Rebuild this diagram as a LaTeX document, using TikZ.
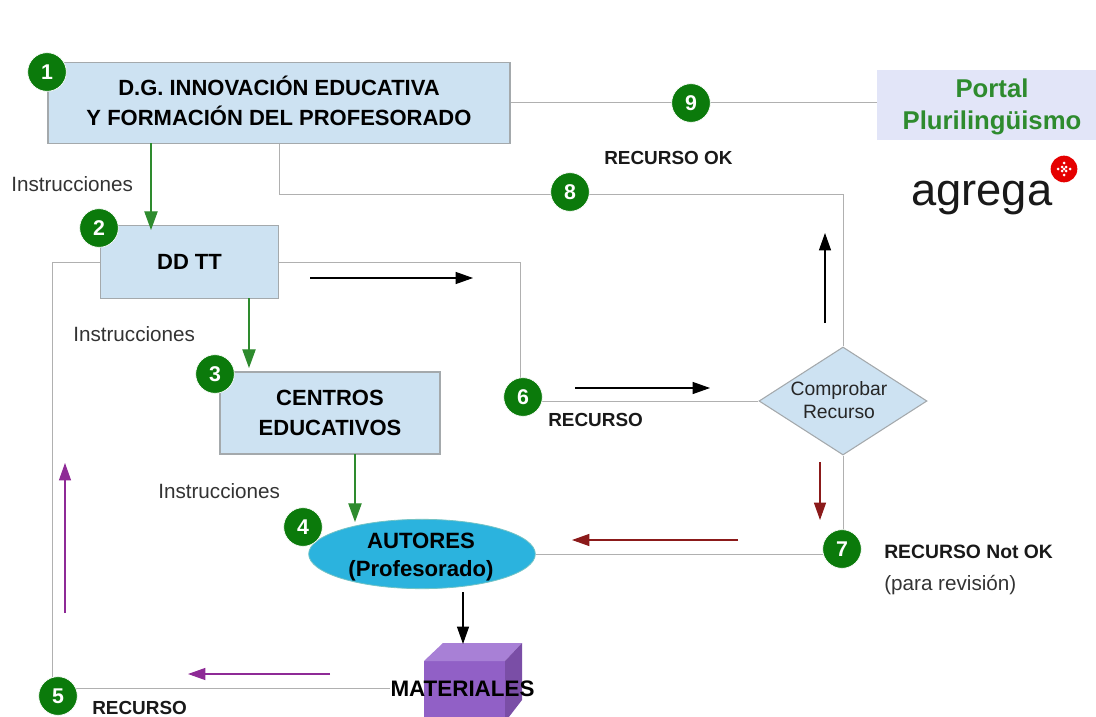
\documentclass[tikz,border=0pt]{standalone}
\usepackage{fontspec}
\setmainfont{Liberation Sans}
\usetikzlibrary{arrows.meta,shapes.geometric,calc}
\definecolor{boxfill}{HTML}{CDE2F2}
\definecolor{boxline}{HTML}{A4A9AC}
\definecolor{wire}{HTML}{B0B0B0}
\definecolor{gr}{HTML}{2E8B2E}
\definecolor{badge}{HTML}{0B7A0B}
\definecolor{dred}{HTML}{8B1A1A}
\definecolor{purp}{HTML}{8E2A96}
\definecolor{portalfill}{HTML}{E2E5F8}
\definecolor{ellfill}{HTML}{2BB3DE}
\definecolor{cubefront}{HTML}{9160C6}
\definecolor{cubetop}{HTML}{A880D6}
\definecolor{cubeside}{HTML}{7A4EA6}
\tikzset{
 x=0.75pt,y=-0.75pt,
 bx/.style={draw=boxline,line width=0.8pt,fill=boxfill,inner sep=0pt},
 bxt/.style={align=center,inner sep=0pt,font=\fontsize{16.5}{22}\selectfont\bfseries},
 badgec/.style={circle,fill=badge,draw=white,line width=0.5pt,minimum size=29pt,inner sep=0pt,text=white,font=\fontsize{16}{16}\selectfont\bfseries},
 wireline/.style={draw=wire,line width=0.75pt},
 greenarrow/.style={draw=gr,line width=0.9pt,-{Triangle[length=14pt,width=10pt,fill=gr]}},
 blackarrow/.style={draw=black,line width=0.8pt,-{Triangle[length=13pt,width=9pt]}},
 redarrow/.style={draw=dred,line width=0.9pt,-{Triangle[length=13pt,width=9pt,fill=dred]}},
 purparrow/.style={draw=purp,line width=0.8pt,-{Triangle[length=13pt,width=9pt,fill=purp]}},
 lab/.style={inner sep=0pt,font=\fontsize{15.5}{18}\selectfont,text=black!80},
 blab/.style={inner sep=0pt,font=\fontsize{14.2}{17}\selectfont\bfseries,text=black!90},
}
\begin{document}
\begin{tikzpicture}
\useasboundingbox (0,0) rectangle (1096,717);
% shapes
\node[bx,minimum width=346.5pt,minimum height=60.5pt] (b1) at (279,103) {};
\node[bxt] (b1t) at (279,101) {D.G. INNOVACIÓN EDUCATIVA\\Y FORMACIÓN DEL PROFESORADO};
\node[bx,minimum width=134pt,minimum height=55pt] (b2) at (189.5,262) {};
\node[bxt] (b2t) at (189.5,262) {DD TT};
\node[bx,minimum width=165pt,minimum height=61.5pt] (b3) at (330,413) {};
\node[bxt] (b3t) at (330,413) {CENTROS\\EDUCATIVOS};
\node[fill=portalfill,minimum width=164.5pt,minimum height=52.5pt,inner sep=0pt] (portal) at (986.5,105) {};
\node[align=center,inner sep=0pt,text=gr,font=\fontsize{19.3}{24}\selectfont\bfseries] (portaltxt) at (992,107) {Portal\\Plurilingüismo};
\node[diamond,aspect=1.55,draw=boxline,line width=0.8pt,fill=boxfill,minimum width=126pt,minimum height=81pt,inner sep=0pt] (check) at (843,401) {};
\node[align=center,inner sep=0pt,text=black!85,font=\fontsize{14.5}{17}\selectfont] (checktxt) at (839,400) {Comprobar\\Recurso};
\node[ellipse,draw=boxline!70!cyan,line width=0.6pt,fill=ellfill,minimum width=170pt,minimum height=52pt,inner sep=0pt] (autores) at (422,554) {};
\node[align=center,inner sep=0pt,font=\fontsize{16.6}{21}\selectfont\bfseries] (autorestxt) at (421,557) {AUTORES\\(Profesorado)};
% cube
\begin{scope}
\clip (0,0) rectangle (1096,717);
\fill[cubefront] (424,661) rectangle (505,730);
\fill[cubetop] (424,661) -- (443,643) -- (522,643) -- (505,661) -- cycle;
\fill[cubeside] (505,661) -- (522,643) -- (522,700) -- (505,722) -- cycle;
\end{scope}
\node[inner sep=0pt,font=\fontsize{16.8}{18}\selectfont\bfseries] (mat) at (462.5,689) {MATERIALES};
% coordinates
\coordinate (c8a) at (279,194);
\coordinate (c8b) at (843,194);
\coordinate (c6a) at (520,262);
\coordinate (c6b) at (520,401);
\coordinate (c5a) at (52,262);
\coordinate (c5b) at (52,688);
\coordinate (c7a) at (843,554);
% wires
\draw[wireline] (b1.east) -- (portal.west |- b1.east);
\draw[wireline] (b1.south) -- (c8a) -- (c8b) -- (check.north);
\draw[wireline] (b2.east) -- (c6a) -- (c6b) -- (check.west);
\draw[wireline] (b2.west) -- (c5a) -- (c5b) -- (mat.west |- c5b);
\draw[wireline] (check.south) -- (c7a) -- (autores.east);
% arrows
\coordinate (a1) at (151,143); \coordinate (a2) at (151,230);
\coordinate (a3) at (249,298); \coordinate (a4) at (249,368);
\coordinate (a5) at (355,454); \coordinate (a6) at (355,522);
\draw[greenarrow] (a1) -- (a2);
\draw[greenarrow] (a3) -- (a4);
\draw[greenarrow] (a5) -- (a6);
\coordinate (k1) at (310,278); \coordinate (k2) at (473,278);
\coordinate (k3) at (575,388); \coordinate (k4) at (710,388);
\coordinate (k5) at (825,323); \coordinate (k6) at (825,233);
\coordinate (k7) at (463,592); \coordinate (k8) at (463,644);
\draw[blackarrow] (k1) -- (k2);
\draw[blackarrow] (k3) -- (k4);
\draw[blackarrow] (k5) -- (k6);
\draw[blackarrow] (k7) -- (k8);
\coordinate (r1) at (820,462); \coordinate (r2) at (820,520);
\coordinate (r3) at (738,540); \coordinate (r4) at (572,540);
\draw[redarrow] (r1) -- (r2);
\draw[redarrow] (r3) -- (r4);
\coordinate (p1) at (330,674); \coordinate (p2) at (188,674);
\coordinate (p3) at (65,613); \coordinate (p4) at (65,463);
\draw[purparrow] (p1) -- (p2);
\draw[purparrow] (p3) -- (p4);
% badges
\node[badgec] (n1) at (47,72) {1};
\node[badgec] (n2) at (99,228) {2};
\node[badgec] (n3) at (215,374) {3};
\node[badgec] (n4) at (303,527) {4};
\node[badgec] (n5) at (58,696) {5};
\node[badgec] (n6) at (523,397) {6};
\node[badgec] (n7) at (842,549) {7};
\node[badgec] (n8) at (570,192) {8};
\node[badgec] (n9) at (691,103) {9};
% labels
\node[lab,anchor=west] (i1) at (11,184) {Instrucciones};
\node[lab,anchor=west] (i2) at (73,334) {Instrucciones};
\node[lab,anchor=west] (i3) at (158,491) {Instrucciones};
\node[blab,anchor=west] (l1) at (604,158) {RECURSO OK};
\node[blab,anchor=west] (l2) at (548,420) {RECURSO};
\node[blab,anchor=west] (l3) at (92,708) {RECURSO};
\node[blab,anchor=west,font=\fontsize{14.5}{17}\selectfont\bfseries] (l4) at (884,552) {RECURSO Not OK};
\node[lab,anchor=west] (l5) at (884,585) {(para revisión)};
% agrega logo
\node[inner sep=0pt,anchor=west,font=\fontsize{34}{34}\selectfont,text=black!90] (agrega) at (911,198) {agrega};
\node[circle,fill=red!90!black,minimum size=20pt,inner sep=0pt] (logo) at (1064,169) {};
\foreach \dx/\dy in {0/-6,0/6,-6/0,6/0,-2/-2,2/-2,-2/2,2/2,0/0}
  \fill[white] ($(logo)+(\dx,\dy)$) circle[radius=1.5];
\end{tikzpicture}
\end{document}
